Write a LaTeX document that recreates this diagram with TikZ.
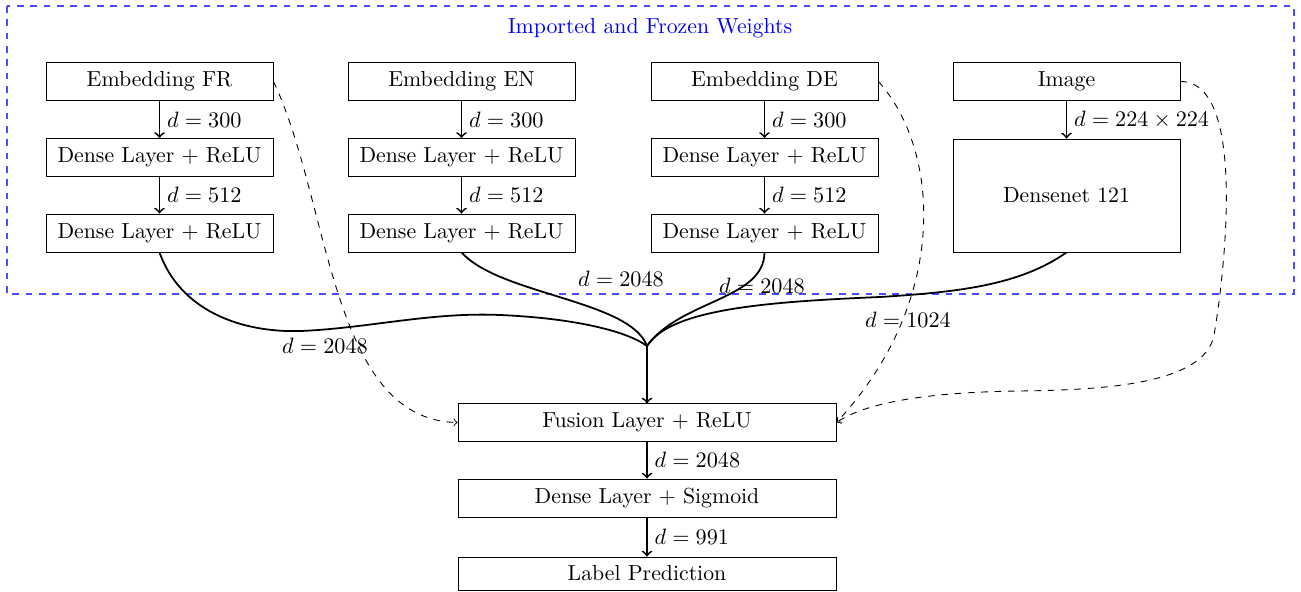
\documentclass[tikz,border=0pt]{standalone}
\begin{document}
\begin{tikzpicture}[x=0.45pt,y=-0.45pt,>=to,
  every node/.style={font=\fontsize{9.8}{11}\selectfont},
  box/.style={draw, minimum width=102.15pt, minimum height=17.1pt, inner sep=0pt},
  conn/.style={->, thick},
  curve/.style={thick},
  skip/.style={->, dashed},
  lab/.style={inner sep=1pt},
  rlab/.style={right, inner sep=1pt, xshift=2pt}]
\useasboundingbox (0,0) rectangle (1301,592);
% frozen region
\draw[blue!70, dashed, semithick] (7,6) rectangle (1294,294);
\node[text=blue] (title) at (650,28) {Imported and Frozen Weights};
% columns
\node[box] (fr1) at (159.5,81.5) {Embedding FR};
\node[box] (fr2) at (159.5,157.5) {Dense Layer + ReLU};
\node[box] (fr3) at (159.5,233) {Dense Layer + ReLU};
\node[box] (en1) at (461.5,81.5) {Embedding EN};
\node[box] (en2) at (461.5,157.5) {Dense Layer + ReLU};
\node[box] (en3) at (461.5,233) {Dense Layer + ReLU};
\node[box] (de1) at (764.5,81.5) {Embedding DE};
\node[box] (de2) at (764.5,157.5) {Dense Layer + ReLU};
\node[box] (de3) at (764.5,233) {Dense Layer + ReLU};
\node[box] (im1) at (1066.5,81.5) {Image};
\node[box, minimum height=50.85pt] (dn) at (1066.5,195.5) {Densenet 121};
% bottom
\node[box, minimum width=170.1pt, minimum height=16.7pt] (fu) at (647,422.5) {Fusion Layer + ReLU};
\node[box, minimum width=170.1pt] (sg) at (647,498) {Dense Layer + Sigmoid};
\node[box, minimum width=170.1pt, minimum height=14.85pt] (lp) at (647,573.5) {Label Prediction};
% vertical arrows
\draw[conn] (fr1) -- (fr2) node[midway, rlab] {$d = 300$};
\draw[conn] (fr2) -- (fr3) node[midway, rlab] {$d = 512$};
\draw[conn] (en1) -- (en2) node[midway, rlab] {$d = 300$};
\draw[conn] (en2) -- (en3) node[midway, rlab] {$d = 512$};
\draw[conn] (de1) -- (de2) node[midway, rlab] {$d = 300$};
\draw[conn] (de2) -- (de3) node[midway, rlab] {$d = 512$};
\draw[conn] (im1) -- (dn) node[midway, rlab] {$d = 224 \times 224$};
\draw[conn] (fu) -- (sg) node[midway, rlab] {$d = 2048$};
\draw[conn] (sg) -- (lp) node[midway, rlab] {$d = 991$};
% merge
\coordinate (m) at (647,346);
\draw[curve] (fr3.south) .. controls (180,310) and (240,333) .. (301,331)
  .. controls (370,328) and (430,312) .. (500,315)
  .. controls (570,318) and (625,330) .. (m);
\draw[curve] (en3.south) .. controls (500,295) and (630,300) .. (m);
\draw[curve] (de3.south) .. controls (764,300) and (680,300) .. (m);
\draw[curve] (dn.south) .. controls (1020,285) and (960,292) .. (880,297)
  .. controls (760,302) and (670,310) .. (m);
\draw[conn] (m) -- (fu);
\node[lab] (l1) at (325,346) {$d = 2048$};
\node[lab] (l2) at (621,279) {$d = 2048$};
\node[lab] (l3) at (762,286) {$d = 2048$};
\node[lab] (l4) at (908,320) {$d = 1024$};
% skip connections
\draw[skip] (fr1.east) .. controls (330,200) and (330,420) .. (fu.west);
\draw[skip] (de1.east) .. controls (940,150) and (950,300) .. (fu.east);
\draw[skip] (im1.east) .. controls (1250,81) and (1222,290) .. (1214,335)
  .. controls (1205,385) and (1100,390) .. (1020,391)
  .. controls (940,392) and (870,400) .. (fu.east);
\end{tikzpicture}
\end{document}
